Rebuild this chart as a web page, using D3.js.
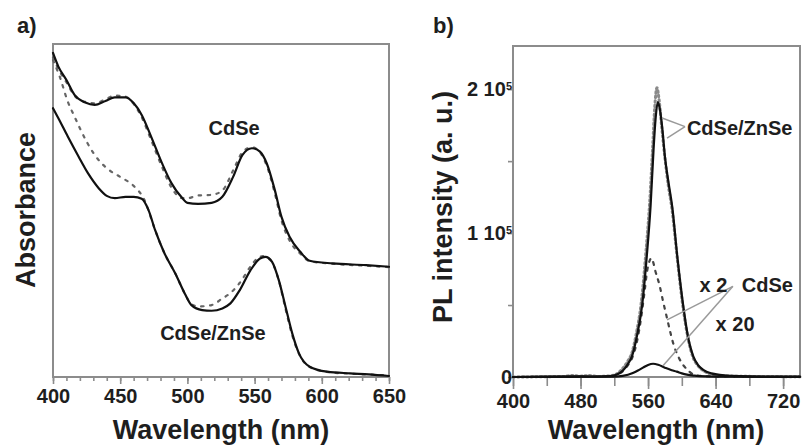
<!DOCTYPE html>
<html>
<head>
<meta charset="utf-8">
<script src="https://cdn.jsdelivr.net/npm/d3@7"></script>
<style>
  html, body { margin: 0; padding: 0; background: #fff; }
  svg text { font-family: "Liberation Sans", Arial, sans-serif; font-weight: bold; fill: #1e1e1e; }
</style>
</head>
<body>
<div id="chart"></div>
<script>
// a) absorbance spectra (arbitrary units, 0..1 of the frame height)
const cdseWl = [400, 404, 410, 416, 424, 431, 439, 446, 454, 460, 466, 473, 481, 488, 496, 500, 508, 518, 526, 534, 541, 548, 554, 559, 565, 570, 576, 584, 591, 608, 633, 650];
const cdseAbs = [0.973, 0.932, 0.892, 0.847, 0.824, 0.817, 0.829, 0.840, 0.840, 0.823, 0.787, 0.722, 0.643, 0.583, 0.538, 0.523, 0.520, 0.523, 0.541, 0.601, 0.667, 0.687, 0.677, 0.642, 0.562, 0.481, 0.421, 0.376, 0.349, 0.341, 0.336, 0.331];
const cdseAbsDash = [0.960, 0.925, 0.885, 0.845, 0.826, 0.822, 0.834, 0.845, 0.842, 0.820, 0.780, 0.712, 0.632, 0.570, 0.537, 0.537, 0.545, 0.547, 0.560, 0.620, 0.675, 0.690, 0.675, 0.635, 0.552, 0.470, 0.410, 0.370, 0.348, 0.340, 0.334, 0.330];

const znWl = [400, 404, 411, 419, 426, 434, 440, 446, 454, 460, 466, 471, 476, 483, 491, 498, 503, 511, 518, 526, 532, 539, 547, 554, 558, 563, 568, 573, 578, 583, 591, 604, 621, 635, 650];
const znAbs = [0.807, 0.777, 0.722, 0.662, 0.612, 0.567, 0.544, 0.537, 0.541, 0.541, 0.535, 0.502, 0.441, 0.371, 0.311, 0.251, 0.216, 0.201, 0.199, 0.206, 0.221, 0.261, 0.321, 0.356, 0.361, 0.346, 0.291, 0.211, 0.131, 0.071, 0.031, 0.016, 0.011, 0.008, 0.003];
const znDashWl = [400, 405, 411, 416, 420, 425, 431, 440, 450, 460, 468, 476, 483, 491, 498, 503, 509, 518, 526, 532, 539, 547, 552, 556, 562, 568, 573, 578, 583, 591, 604, 621, 650];
const znAbsDash = [0.952, 0.902, 0.827, 0.782, 0.747, 0.707, 0.667, 0.627, 0.601, 0.574, 0.532, 0.441, 0.371, 0.311, 0.251, 0.218, 0.212, 0.216, 0.236, 0.252, 0.283, 0.332, 0.356, 0.363, 0.350, 0.290, 0.205, 0.125, 0.070, 0.030, 0.015, 0.010, 0.005];

// b) PL spectra, intensity in units of 1e5
const zsWl = [400, 440, 480, 500, 515, 525, 531, 536, 541, 547, 553, 558.5, 563, 566.5, 569, 571.5, 574, 577, 580, 584, 588.7, 594.7, 601.8, 607, 613.6, 619, 625.4, 635, 645, 660, 680, 700, 740];
const zsPL = [0, 0.002, 0.004, 0.003, 0.006, 0.022, 0.05, 0.09, 0.145, 0.29, 0.5, 0.84, 1.19, 1.58, 1.8, 1.91, 1.86, 1.72, 1.53, 1.36, 1.18, 0.835, 0.49, 0.29, 0.143, 0.085, 0.05, 0.025, 0.015, 0.008, 0.004, 0.003, 0.002];
const zsDotWl = [400, 460, 470, 480, 490, 500, 515, 525, 530, 536, 541, 546, 552, 557.5, 562, 565.5, 568, 570.5, 573, 576, 580, 584, 588.5, 594.5, 601.5, 607, 613, 619, 625, 640, 660, 740];
const zsDotPL = [0, 0.004, 0.01, 0.006, 0.01, 0.004, 0.008, 0.03, 0.06, 0.11, 0.17, 0.3, 0.52, 0.87, 1.22, 1.6, 1.88, 2.01, 1.93, 1.75, 1.52, 1.33, 1.16, 0.83, 0.48, 0.28, 0.14, 0.08, 0.045, 0.015, 0.006, 0.002];
const cdseX2Wl = [400, 515, 525, 531, 536, 541, 547, 552, 556, 559, 562, 564, 566, 568.5, 573.5, 578, 582, 586, 590, 596, 602, 606, 613, 625, 650, 740];
const cdseX2PL = [0, 0.005, 0.02, 0.045, 0.08, 0.13, 0.25, 0.42, 0.6, 0.74, 0.81, 0.826, 0.8, 0.74, 0.64, 0.52, 0.42, 0.32, 0.23, 0.14, 0.08, 0.055, 0.02, 0.006, 0.002, 0];
const cdseX20Wl = [400, 520, 530, 542, 548, 554, 560, 566, 572, 580, 588, 594, 600, 606, 615, 630, 650, 740];
const cdseX20PL = [0, 0.003, 0.008, 0.028, 0.045, 0.065, 0.084, 0.092, 0.085, 0.065, 0.047, 0.037, 0.025, 0.016, 0.009, 0.004, 0.002, 0.001];

const aTicks = [400, 450, 500, 550, 600, 650];
const bTicks = [400, 480, 560, 640, 720];
const bYTicks = [0, 1, 2];

const d3 = window.d3;
const W = 802, H = 446;
const frameCol = "#8c8c8c", tickCol = "#8c8c8c";

const svg = d3.select("#chart").append("svg").attr("width", W).attr("height", H);

function frame(x, y) {
  const [x0, x1] = x.range(), [y0, y1] = y.range();
  svg.append("rect").attr("x", x0).attr("y", y1).attr("width", x1 - x0).attr("height", y0 - y1)
    .attr("fill", "none").attr("stroke", frameCol).attr("stroke-width", 2);
}

function curve(x, y, wl, vals, style) {
  const line = d3.line().x((d) => x(d[0])).y((d) => y(d[1])).curve(d3.curveMonotoneX);
  svg.append("path").datum(d3.zip(wl, vals)).attr("d", line)
    .attr("fill", "none").attr("stroke", style.color).attr("stroke-width", style.width)
    .attr("stroke-dasharray", style.dash || null).attr("stroke-linecap", "round");
}

function bottomAxis(x, yPix, minor, major, majorSize) {
  const g1 = svg.append("g").attr("transform", `translate(0,${yPix})`)
    .call(d3.axisBottom(x).tickValues(minor).tickSize(majorSize - 3).tickFormat(""));
  const g2 = svg.append("g").attr("transform", `translate(0,${yPix})`)
    .call(d3.axisBottom(x).tickValues(major).tickSize(majorSize).tickPadding(5).tickFormat(d3.format("d")));
  [g1, g2].forEach((g) => {
    g.select(".domain").remove();
    g.selectAll("line").attr("stroke", tickCol).attr("stroke-width", 1.6);
    g.selectAll("text").style("font-size", "20px").attr("fill", "#1e1e1e");
  });
}

function leader(x, y, from, to) {
  svg.append("line").attr("x1", x(from[0])).attr("y1", y(from[1]))
    .attr("x2", x(to[0])).attr("y2", y(to[1]))
    .attr("stroke", "#9a9a9a").attr("stroke-width", 1.5);
}

// ---------- panel a ----------
const ax = d3.scaleLinear().domain([400, 650]).range([53, 389]);
const ay = d3.scaleLinear().domain([0, 1]).range([377, 44]);
frame(ax, ay);
bottomAxis(ax, 377, d3.range(400, 651, 10), aTicks, 7);

const dashA = { color: "#666", width: 2.2, dash: "2.5,6.5" };
const solid = { color: "#111", width: 2.2 };
curve(ax, ay, cdseWl, cdseAbsDash, dashA);
curve(ax, ay, znDashWl, znAbsDash, dashA);
curve(ax, ay, cdseWl, cdseAbs, solid);
curve(ax, ay, znWl, znAbs, solid);

svg.append("text").attr("x", ax(534.7)).attr("y", ay(0.727)).attr("text-anchor", "middle")
  .style("font-size", "20px").text("CdSe");
svg.append("text").attr("x", ax(519)).attr("y", ay(0.111)).attr("text-anchor", "middle")
  .style("font-size", "20px").text("CdSe/ZnSe");

svg.append("text").attr("x", 17).attr("y", 33).style("font-size", "22px").text("a)");
svg.append("text").attr("transform", "translate(35,210) rotate(-90)").attr("text-anchor", "middle")
  .style("font-size", "27px").text("Absorbance");
svg.append("text").attr("x", 221).attr("y", 439).attr("text-anchor", "middle")
  .style("font-size", "27px").text("Wavelength (nm)");

// ---------- panel b ----------
const bx = d3.scaleLinear().domain([400, 740]).range([513, 800]);
const by = d3.scaleLinear().domain([0, 2.3]).range([377, 46]);
frame(bx, by);
bottomAxis(bx, 377, d3.range(400, 741, 40), bTicks, 12);

const gy = svg.append("g").attr("transform", `translate(${bx(400)},0)`)
  .call(d3.axisLeft(by).tickValues([0, 0.5, 1, 1.5, 2]).tickSize(5).tickFormat(""));
gy.select(".domain").remove();
gy.selectAll("line").attr("stroke", tickCol).attr("stroke-width", 1.6);

bYTicks.forEach((v) => {
  const t = svg.append("text").attr("x", bx(400) - 1).attr("y", by(v)).attr("dy", "0.35em")
    .attr("text-anchor", "end").style("font-size", "20px");
  if (v === 0) { t.text("0"); return; }
  t.append("tspan").text(v + " 10");
  t.append("tspan").attr("dy", "-0.55em").style("font-size", "11px").text("5");
});

curve(bx, by, cdseX2Wl, cdseX2PL, { color: "#444", width: 2.2, dash: "3,6" });
curve(bx, by, zsDotWl, zsDotPL, { color: "#8a8a8a", width: 3, dash: "1.5,3" });
curve(bx, by, zsWl, zsPL, solid);
curve(bx, by, cdseX20Wl, cdseX20PL, solid);

leader(bx, by, [603.8, 1.74], [576.6, 1.80]);
leader(bx, by, [603.8, 1.74], [582.5, 1.66]);
leader(bx, by, [660.5, 0.63], [582.5, 0.397]);
leader(bx, by, [660.5, 0.63], [577.7, 0.079]);

svg.append("text").attr("x", bx(606)).attr("y", by(1.73)).attr("dy", "0.35em")
  .style("font-size", "20px").text("CdSe/ZnSe");
svg.append("text").attr("x", bx(621)).attr("y", by(0.64)).attr("dy", "0.35em")
  .style("font-size", "20px").text("x 2");
svg.append("text").attr("x", bx(671)).attr("y", by(0.64)).attr("dy", "0.35em")
  .style("font-size", "20px").text("CdSe");
svg.append("text").attr("x", bx(640)).attr("y", by(0.37)).attr("dy", "0.35em")
  .style("font-size", "20px").text("x 20");

svg.append("text").attr("x", 433).attr("y", 33).style("font-size", "22px").text("b)");
svg.append("text").attr("transform", "translate(452,207) rotate(-90)").attr("text-anchor", "middle")
  .style("font-size", "27px").text("PL intensity (a. u.)");
svg.append("text").attr("x", 656).attr("y", 439).attr("text-anchor", "middle")
  .style("font-size", "27px").text("Wavelength (nm)");
</script>
</body>
</html>
